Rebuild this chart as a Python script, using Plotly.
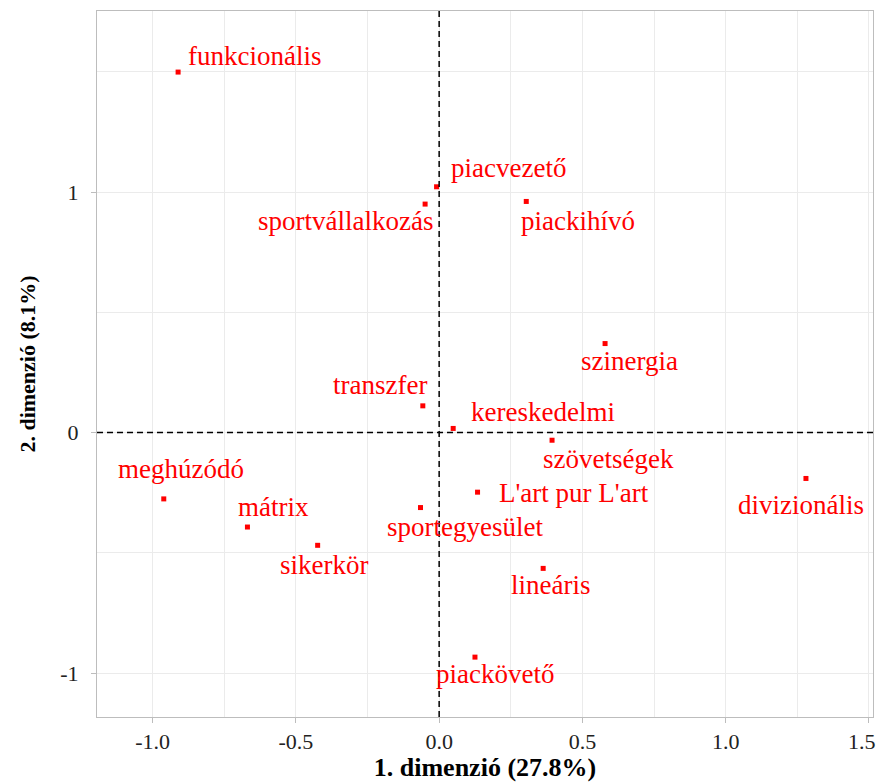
import plotly.graph_objects as go

# ---- data ----
labels = ["funkcionális", "piacvezető", "sportvállalkozás", "piackihívó", "szinergia",
          "transzfer", "kereskedelmi", "szövetségek", "divizionális", "L'art pur L'art",
          "sportegyesület", "lineáris", "piackövető", "meghúzódó", "mátrix", "sikerkör"]
dim1 = [-0.911, -0.009, -0.049, 0.304, 0.579,
        -0.057, 0.049, 0.394, 1.280, 0.134,
        -0.065, 0.363, 0.125, -0.961, -0.669, -0.424]
dim2 = [1.499, 1.022, 0.950, 0.961, 0.370,
        0.111, 0.017, -0.032, -0.191, -0.248,
        -0.312, -0.565, -0.934, -0.276, -0.393, -0.469]
x_ticks = [-1.0, -0.5, 0.0, 0.5, 1.0, 1.5]
x_tick_labels = ["-1.0", "-0.5", "0.0", "0.5", "1.0", "1.5"]
y_ticks = [-1, 0, 1]
y_tick_labels = ["-1", "0", "1"]
x_title = "1. dimenzió (27.8%)"
y_title = "2. dimenzió (8.1%)"

# ---- label placement (pixel offsets: dx right, dy down) ----
label_offsets = {
    "funkcionális": (76, -16), "piacvezető": (72, -19), "sportvállalkozás": (-80, 17),
    "piackihívó": (52, 20), "szinergia": (24, 17), "transzfer": (-43, -21),
    "kereskedelmi": (90, -16), "szövetségek": (56, 19), "divizionális": (-5, 27),
    "L'art pur L'art": (96, 1), "sportegyesület": (44, 19), "lineáris": (7, 17),
    "piackövető": (20, 17), "meghúzódó": (17, -30), "mátrix": (26, -20),
    "sikerkör": (6, 20),
}

RED = "#ff0000"
SERIF = "Liberation Serif, Times New Roman, serif"
GRID = "#ebebeb"
BORDER = "#bdbdbd"
TICK_FONT = dict(family=SERIF, size=22, color="#222222")

fig = go.Figure()
fig.add_trace(go.Scatter(
    x=dim1, y=dim2, mode="markers",
    marker=dict(symbol="square", size=5, color=RED),
    hovertext=labels, showlegend=False,
))

for lab, xv, yv in zip(labels, dim1, dim2):
    dx, dy = label_offsets[lab]
    fig.add_annotation(x=xv, y=yv, text=lab, showarrow=False,
                       xshift=dx, yshift=-dy,
                       font=dict(family=SERIF, size=27, color=RED))

# dashed reference lines through origin
fig.add_shape(type="line", x0=0, x1=0, y0=0, y1=1, xref="x", yref="paper",
              line=dict(color="black", width=1.5, dash="6px,4px"))
fig.add_shape(type="line", x0=0, x1=1, y0=0, y1=0, xref="paper", yref="y",
              line=dict(color="black", width=1.5, dash="6px,4px"))

# the last x tick label sits slightly left of its tick so it stays inside the page
x_ticktext = x_tick_labels[:-1] + [""]
fig.add_annotation(x=x_ticks[-1], xref="x", y=0, yref="paper", yanchor="middle",
                   text=x_tick_labels[-1], showarrow=False, xshift=-7, yshift=-24,
                   font=TICK_FONT)

fig.update_layout(
    width=880, height=782,
    margin=dict(l=97, r=7, t=11, b=65),
    paper_bgcolor="white", plot_bgcolor="white",
    font=dict(family=SERIF, color="black"),
    xaxis=dict(
        range=[-1.194, 1.514], automargin=False,
        tickvals=x_ticks, ticktext=x_ticktext,
        tickfont=TICK_FONT,
        ticklabeloverflow="allow",
        ticks="outside", ticklen=5, tickcolor=BORDER,
        showgrid=True, gridcolor=GRID, gridwidth=1,
        minor=dict(dtick=0.25, tick0=0, showgrid=True, gridcolor=GRID, gridwidth=1, ticks=""),
        zeroline=False, showline=True, mirror=True, linecolor=BORDER, linewidth=1,
        title=dict(text="<b>" + x_title + "</b>", font=dict(family=SERIF, size=26, color="black"),
                   standoff=12),
    ),
    yaxis=dict(
        range=[-1.183, 1.753], automargin=False,
        tickvals=y_ticks, ticktext=y_tick_labels,
        tickfont=TICK_FONT,
        ticklabeloverflow="allow", ticklabelstandoff=8,
        ticks="outside", ticklen=5, tickcolor=BORDER,
        showgrid=True, gridcolor=GRID, gridwidth=1,
        minor=dict(dtick=0.5, tick0=0, showgrid=True, gridcolor=GRID, gridwidth=1, ticks=""),
        zeroline=False, showline=True, mirror=True, linecolor=BORDER, linewidth=1,
        title=dict(text="<b>" + y_title + "</b>", font=dict(family=SERIF, size=22, color="black"),
                   standoff=18),
    ),
)

fig.write_html("out.html", config={"displayModeBar": False},
               post_script="document.body.style.margin='0';")
